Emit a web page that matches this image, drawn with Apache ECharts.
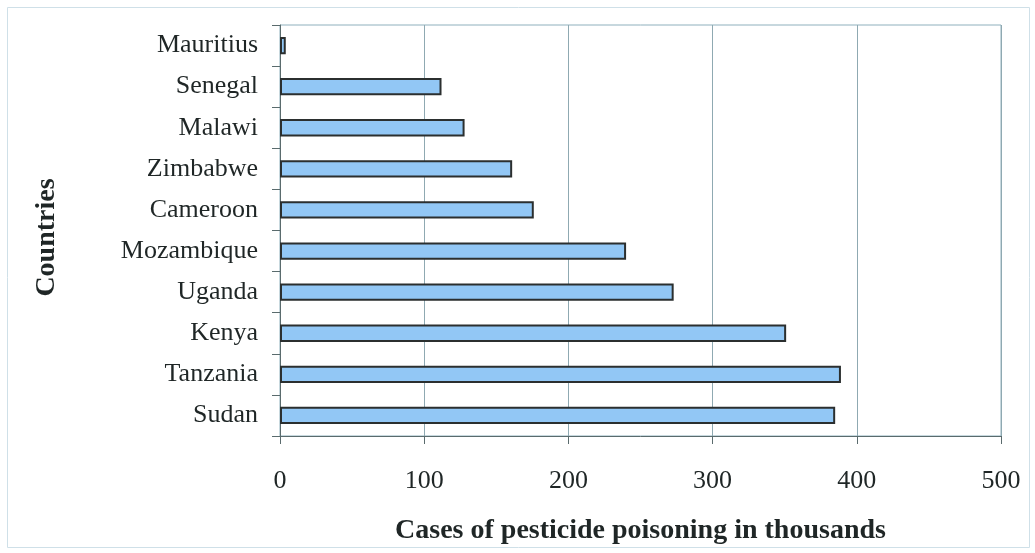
<!DOCTYPE html>
<html>
<head>
<meta charset="utf-8">
<script src="https://cdn.jsdelivr.net/npm/echarts@6/dist/echarts.min.js"></script>
<style>
  html, body { margin: 0; padding: 0; background: #ffffff; }
  #chart { width: 1035px; height: 553px; }
</style>
</head>
<body>
<div id="chart"></div>
<script>
// Countries listed top to bottom as they appear on the chart
const countries = ['Mauritius', 'Senegal', 'Malawi', 'Zimbabwe', 'Cameroon',
                   'Mozambique', 'Uganda', 'Kenya', 'Tanzania', 'Sudan'];
// Cases of pesticide poisoning (thousands)
const cases = [4, 112, 128, 161, 176, 240, 273, 351, 389, 385];
const valueTicks = [0, 100, 200, 300, 400, 500];

const serif = '"Liberation Serif", "Times New Roman", serif';
const textColor = '#1f2626';

const chart = echarts.init(document.getElementById('chart'), null, { renderer: 'canvas' });

chart.setOption({
  animation: false,
  backgroundColor: '#ffffff',
  graphic: [{
    type: 'rect',
    shape: { x: 7.5, y: 7.5, width: 1022, height: 540 },
    style: { fill: 'none', stroke: '#cfe0e8', lineWidth: 1 },
    silent: true
  }],
  grid: {
    left: 280, right: 34, top: 25, bottom: 117,
    show: true,
    borderColor: '#8fb0bd',
    borderWidth: 1,
    outerBoundsMode: 'none'
  },
  xAxis: {
    type: 'value',
    min: valueTicks[0],
    max: valueTicks[valueTicks.length - 1],
    interval: valueTicks[1] - valueTicks[0],
    name: 'Cases of pesticide poisoning in thousands',
    nameLocation: 'middle',
    nameGap: 81,
    nameTextStyle: { fontFamily: serif, fontWeight: 'bold', fontSize: 28, color: textColor },
    axisLine: { show: true, lineStyle: { color: '#5a6b6d', width: 1 } },
    axisTick: { show: true, length: 8, lineStyle: { color: '#5a6b6d' } },
    axisLabel: { fontFamily: serif, fontSize: 26, color: textColor, margin: 32 },
    splitLine: { show: true, lineStyle: { color: '#8fa9b2', width: 1 } }
  },
  yAxis: {
    type: 'category',
    data: countries,
    inverse: true,
    name: 'Countries',
    nameLocation: 'middle',
    nameGap: 219,
    nameRotate: 90,
    nameTextStyle: {
      fontFamily: serif, fontWeight: 'bold', fontSize: 28, color: textColor,
      padding: [0, 14, 0, 0]
    },
    axisLine: { show: true, lineStyle: { color: '#5a6b6d', width: 1 } },
    axisTick: { show: true, length: 8, alignWithLabel: false, lineStyle: { color: '#5a6b6d' } },
    axisLabel: { fontFamily: serif, fontSize: 26, color: textColor, margin: 22 },
    splitLine: { show: false }
  },
  series: [{
    type: 'bar',
    data: cases,
    barWidth: '42%',
    itemStyle: { color: '#92c7f5', borderColor: '#2b2f2f', borderWidth: 2 }
  }]
});
</script>
</body>
</html>
